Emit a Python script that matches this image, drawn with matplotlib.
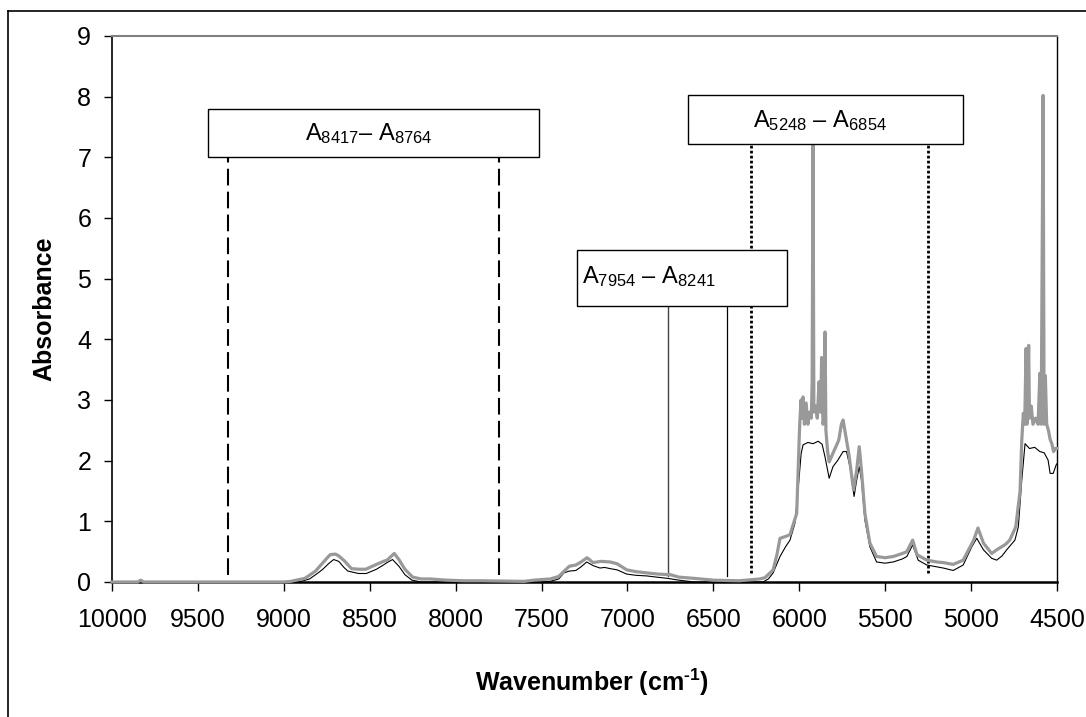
import matplotlib
matplotlib.use("Agg")
import matplotlib.pyplot as plt
from matplotlib.patches import Rectangle
from matplotlib.lines import Line2D

plt.rcParams['font.family'] = ['Liberation Sans', 'DejaVu Sans']
plt.rcParams['mathtext.fontset'] = 'custom'
plt.rcParams['mathtext.rm'] = 'Liberation Sans'
plt.rcParams['mathtext.it'] = 'Liberation Sans:italic'
plt.rcParams['mathtext.bf'] = 'Liberation Sans:bold'
plt.rcParams['mathtext.default'] = 'regular'

# ---------------- data ----------------
black_w = [10000, 9000, 8950, 8900, 8850, 8800, 8773, 8740, 8710, 8680, 8650, 8627,
           8565, 8520, 8461, 8420, 8399, 8367, 8330, 8295, 8254, 8200, 7500, 7450,
           7400, 7370, 7338, 7300, 7270, 7237, 7200, 7160, 7133, 7100, 7060, 7004,
           6950, 6888, 6830, 6767, 6700, 6612, 6400, 6211, 6180, 6152, 6130, 6112,
           6080, 6054, 6025, 6007, 5989, 5978, 5950, 5920, 5890, 5867, 5850, 5826,
           5804, 5775, 5745, 5725, 5705, 5681, 5666, 5651, 5638, 5618, 5589, 5550,
           5500, 5453, 5400, 5374, 5340, 5308, 5258, 5200, 5162, 5104, 5046, 4996,
           4967, 4928, 4880, 4851, 4820, 4793, 4745, 4725, 4705, 4686, 4660, 4630,
           4600, 4575, 4552, 4540, 4522, 4505, 4500]
black_a = [0.0, 0.0, 0.0, 0.01, 0.05, 0.15, 0.21, 0.30, 0.37, 0.34, 0.24, 0.18,
           0.14, 0.14, 0.21, 0.28, 0.32, 0.37, 0.26, 0.12, 0.03, 0.0, 0.0, 0.01,
           0.05, 0.15, 0.18, 0.19, 0.25, 0.33, 0.27, 0.23, 0.24, 0.22, 0.20, 0.13,
           0.11, 0.10, 0.08, 0.06, 0.03, 0.0, 0.0, 0.0, 0.05, 0.15, 0.30, 0.42,
           0.58, 0.69, 0.97, 1.52, 2.12, 2.26, 2.30, 2.28, 2.32, 2.27, 2.06, 1.71,
           1.90, 2.01, 2.15, 2.15, 1.90, 1.41, 1.68, 1.90, 1.68, 1.02, 0.58, 0.33,
           0.31, 0.33, 0.38, 0.42, 0.61, 0.36, 0.28, 0.25, 0.23, 0.19, 0.28, 0.58,
           0.72, 0.53, 0.39, 0.36, 0.43, 0.53, 0.69, 0.91, 1.68, 2.28, 2.20, 2.22,
           2.15, 2.13, 2.01, 1.79, 1.79, 1.93, 1.95]

gray_w = [10000, 9850, 9833, 9815, 9000, 8960, 8877, 8815, 8753, 8730, 8700, 8680,
          8648, 8606, 8560, 8523, 8461, 8420, 8399, 8357, 8330, 8295, 8250, 8200,
          8149, 8050, 7950, 7850, 7600, 7546, 7450, 7401, 7338, 7300, 7270, 7235,
          7200, 7154, 7100, 7060, 7004, 6950, 6888, 6820, 6750, 6700, 6612, 6500,
          6350, 6230, 6200, 6152, 6130, 6112, 6080, 6054, 6035, 6015, 5998, 5990,
          5983, 5978, 5970, 5960, 5950, 5940, 5930, 5925, 5920, 5915, 5905, 5895,
          5885, 5875, 5870, 5862, 5855, 5850, 5845, 5835, 5826, 5804, 5770, 5755,
          5745, 5735, 5712, 5684, 5666, 5651, 5638, 5618, 5589, 5550, 5500, 5453,
          5400, 5374, 5340, 5315, 5258, 5200, 5162, 5104, 5046, 4985, 4960, 4928,
          4880, 4851, 4800, 4775, 4740, 4715, 4705, 4696, 4688, 4680, 4675, 4665,
          4660, 4650, 4640, 4625, 4610, 4600, 4592, 4581, 4575, 4568, 4560, 4550,
          4540, 4530, 4520, 4510, 4500]
gray_a = [0.0, 0.0, 0.03, 0.0, 0.0, 0.01, 0.06, 0.18, 0.38, 0.45, 0.46, 0.43,
          0.35, 0.22, 0.21, 0.21, 0.29, 0.34, 0.36, 0.47, 0.37, 0.21, 0.08, 0.05,
          0.05, 0.03, 0.02, 0.02, 0.01, 0.03, 0.05, 0.09, 0.26, 0.28, 0.33, 0.40,
          0.32, 0.34, 0.33, 0.30, 0.20, 0.17, 0.15, 0.13, 0.12, 0.08, 0.06, 0.03,
          0.02, 0.05, 0.07, 0.20, 0.45, 0.72, 0.75, 0.78, 0.95, 1.13, 2.56, 3.00,
          2.70, 3.05, 2.60, 2.95, 2.60, 2.80, 2.70, 3.30, 7.25, 2.80, 2.90, 2.70,
          3.30, 2.80, 3.70, 2.60, 2.70, 4.12, 2.50, 2.15, 1.98, 2.12, 2.34, 2.60,
          2.67, 2.50, 2.12, 1.52, 1.84, 2.23, 1.84, 1.13, 0.64, 0.42, 0.40, 0.42,
          0.47, 0.50, 0.69, 0.45, 0.36, 0.33, 0.32, 0.29, 0.36, 0.69, 0.89, 0.64,
          0.47, 0.53, 0.62, 0.69, 0.91, 1.50, 2.34, 2.78, 2.60, 3.85, 2.60, 3.90,
          2.70, 2.90, 2.60, 2.70, 2.60, 3.44, 2.60, 8.02, 2.60, 3.40, 2.60, 2.50,
          2.35, 2.28, 2.15, 2.20, 2.20]

x_ticks = [10000, 9500, 9000, 8500, 8000, 7500, 7000, 6500, 6000, 5500, 5000, 4500]
y_ticks = [0, 1, 2, 3, 4, 5, 6, 7, 8, 9]

# annotation boxes
box_labels = [r'A$_{8417}$– A$_{8764}$', r'A$_{7954}$ – A$_{8241}$', r'A$_{5248}$ – A$_{6854}$']
box_x0 = [9441, 7293, 6647]
box_x1 = [7515, 6071, 5047]
box_y0 = [7.0, 4.55, 7.22]
box_y1 = [7.79, 5.47, 8.02]
text_x = [8877, 7264, 6269]
text_y = [7.28, 4.93, 7.50]

dashed_x = [9325, 7747]
solid_x = [6764, 6420]
dotted_x = [6281, 5250]

# ---------------- figure ----------------
fig = plt.figure(figsize=(10.86, 7.17), dpi=100)
ax = fig.add_axes([0.1031, 0.1883, 0.8702, 0.7615])

ax.plot(black_w, black_a, color='black', lw=0.8, zorder=3, clip_on=False)
ax.plot(gray_w, gray_a, color='#999999', lw=2.3, zorder=3.1, clip_on=False)

for x in dashed_x:
    ax.plot([x, x], [0.12, 7.0], color='black', lw=1.5, linestyle=(0, (8, 3)), zorder=2)
ax.plot([solid_x[0]] * 2, [0.1, 4.55], color='#444444', lw=1.0, zorder=2)
ax.plot([solid_x[1]] * 2, [0.1, 4.55], color='black', lw=0.9, zorder=2)
for x in dotted_x:
    ax.plot([x, x], [0.15, 7.22], color='black', lw=2.0, linestyle=(0, (1, 0.8)),
            dash_capstyle='butt', zorder=2)

for lab, x0, x1, y0, y1, tx, ty in zip(box_labels, box_x0, box_x1, box_y0, box_y1, text_x, text_y):
    ax.add_patch(Rectangle((min(x0, x1), y0), abs(x1 - x0), y1 - y0, facecolor='white',
                           edgecolor='black', lw=1.0, zorder=4))
    ax.text(tx, ty, lab, fontsize=17, ha='left', va='baseline', zorder=5)

ax.set_xlim(10000, 4500)
ax.set_ylim(0, 9)
ax.set_xticks(x_ticks)
ax.set_xticklabels([str(v) for v in x_ticks])
ax.set_yticks(y_ticks)
ax.tick_params(axis='both', labelsize=18, colors='black')
ax.tick_params(axis='y', direction='out', length=6, width=1.0, pad=9)
ax.tick_params(axis='x', direction='out', length=6.5, width=1.0, pad=12)

ax.spines['top'].set_color('#808080')
ax.spines['top'].set_linewidth(1.5)
ax.spines['right'].set_color('black')
ax.spines['right'].set_linewidth(1.0)
ax.spines['left'].set_linewidth(1.2)
ax.spines['bottom'].set_linewidth(1.8)

ax.set_xlabel('Wavenumber (cm$^{\\mathbf{\u2010}\\mathbf{1}}$)', fontsize=18, fontweight='bold')
ax.xaxis.label.set_va('center')
ax.xaxis.set_label_coords(0.508, -0.183)
ax.set_ylabel('Absorbance', fontsize=18, fontweight='bold')
ax.yaxis.label.set_va('center')
ax.yaxis.set_label_coords(-0.071, 0.5)

# outer chart frame (partly cropped in the reference)
fx = 8 / 1086
fy = 1 - 11 / 717
fig.add_artist(Line2D([fx, fx], [0, fy], transform=fig.transFigure, color='black', lw=1.2))
fig.add_artist(Line2D([fx, 1], [fy, fy], transform=fig.transFigure, color='black', lw=1.2))

fig.savefig('out.png', dpi=100)
